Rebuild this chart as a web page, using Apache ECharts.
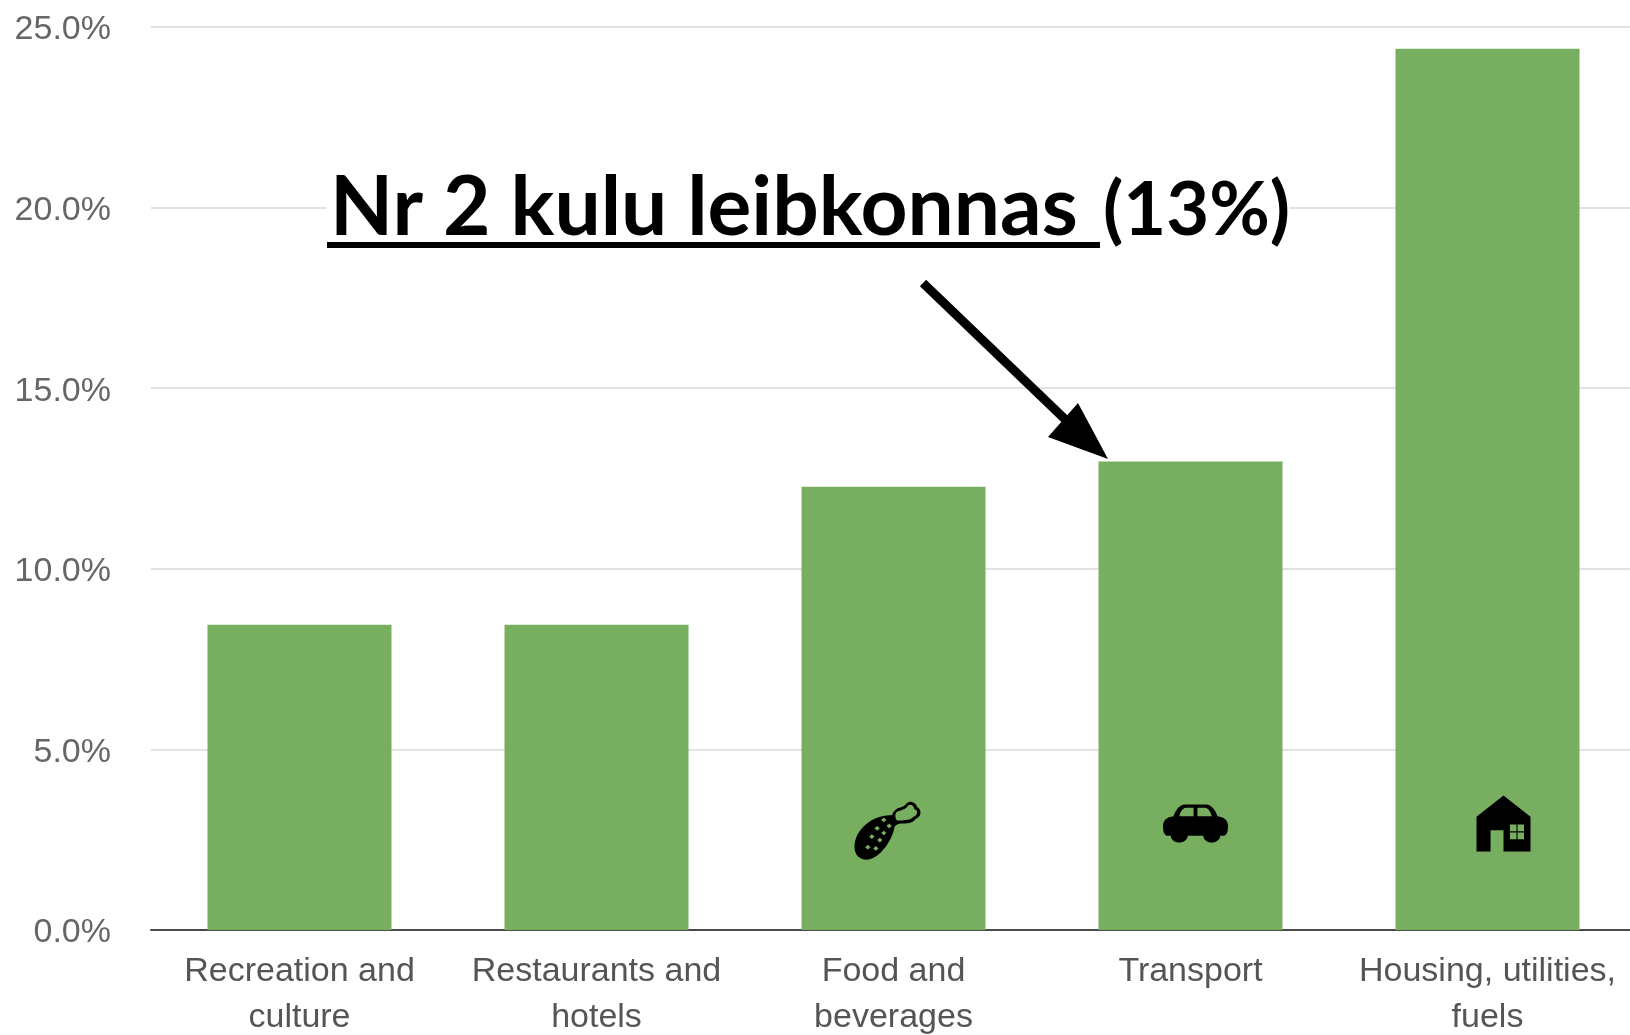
<!DOCTYPE html>
<html>
<head>
<meta charset="utf-8">
<style>html,body{margin:0;padding:0;background:#fff}#c{width:1630px;height:1035px}</style>
<script src="https://cdn.jsdelivr.net/npm/echarts@6/dist/echarts.min.js"></script>
</head>
<body>
<div id="c"></div>
<script>
const categories = ['Recreation and\nculture', 'Restaurants and\nhotels', 'Food and\nbeverages', 'Transport', 'Housing, utilities,\nfuels'];
const shares = [8.45, 8.45, 12.27, 12.97, 24.4];
const headlineMain = 'Nr 2 kulu leibkonnas';
const headlineShare = '(13%)';
const iconHouse = 'path://M50 0L100 38L100 100L50 100L50 62L26 62L26 100L0 100L0 38ZM62 52L62 64L74 64L74 52ZM76 52L76 64L88 64L88 52ZM62 66L62 78L74 78L74 66ZM76 66L76 78L88 78L88 66Z';
const iconCar = 'path://M34 0L66 0C74 0 80 10 84 24C94 26 100 32 100 44C100 56 98 62 94 64L88 64C88 72 82 78 75 78C68 78 62 72 62 64L38 64C38 72 32 78 25 78C18 78 12 72 12 64L6 64C2 62 0 56 0 44C0 32 6 26 16 24C20 10 26 0 34 0ZM47 7L35 7C30 8 27 15 25 24L47 24ZM53 7L53 24L75 24C73 15 70 8 65 7Z';
const iconFood = 'path://M56 24C30 22 0 46 0 78C0 94 12 102 24 98C42 92 58 62 60 44C62 40 66 38 70 38C78 38 88 38 92 30C100 28 102 14 94 10C92 2 84 -2 78 4C76 8 72 10 66 12C62 14 58 18 56 24ZM64 18C72 15 78 13 80 8C84 4 89 7 90 14C96 15 95 25 88 27C84 33 72 33 64 33C61 30 60 20 64 18ZM44 28L48 32L44 36L40 32ZM52 38L56 42L52 46L48 42ZM34 42L38 46L34 50L30 46ZM44 50L48 54L44 58L40 54ZM26 56L30 60L26 64L22 60ZM38 62L42 66L38 70L34 66ZM20 74L24 78L20 82L16 78ZM32 76L36 80L32 84L28 80Z';

const chart = echarts.init(document.getElementById('c'), null, {renderer: 'canvas'});
const iconPoint = (cat, value, symbol, size, dx) => ({
  coord: [categories[cat], value], symbol, symbolSize: size, symbolOffset: [dx, 0],
  itemStyle: {color: '#000'}
});
chart.setOption({
  animation: false,
  backgroundColor: '#fff',
  grid: {left: 151, top: 27, width: 1485, height: 903, containLabel: false, outerBoundsMode: 'none'},
  xAxis: {
    type: 'category', data: categories,
    axisTick: {show: false},
    axisLine: {lineStyle: {color: '#4a4a4a', width: 2}},
    axisLabel: {color: '#555', fontFamily: 'Liberation Sans', fontSize: 34, lineHeight: 46, margin: 19, interval: 0, hideOverlap: false}
  },
  yAxis: {
    type: 'value', min: 0, max: 25, interval: 5,
    axisLine: {show: false}, axisTick: {show: false},
    splitLine: {lineStyle: {color: '#e2e2e2', width: 2}},
    axisLabel: {margin: 40, formatter: v => '{tick|' + v.toFixed(1) + '%}',
      rich: {tick: {color: '#666', fontFamily: 'Liberation Sans', fontSize: 34, padding: [6, 0, 0, 0]}}}
  },
  series: [{
    type: 'bar', data: shares, barWidth: 184,
    itemStyle: {color: '#78ae60'},
    markPoint: {
      silent: true, label: {show: false},
      data: [
        iconPoint(2, 2.75, iconFood, [66, 58], -6),
        iconPoint(3, 2.95, iconCar, [65, 38], 5),
        iconPoint(4, 2.95, iconHouse, [54, 56], 16)
      ]
    }
  }],
  graphic: [
    {type: 'rect', z: 9, shape: {x: 326, y: 170, width: 964, height: 90}, style: {fill: '#fff'}},
    {type: 'text', left: 330, top: 168, z: 10, style: {text: headlineMain, fill: '#000',
      fontFamily: 'Lato', fontWeight: 'bold', fontSize: 82}},
    {type: 'text', left: 1103, top: 174, z: 10, style: {text: headlineShare, fill: '#000',
      fontFamily: 'Lato', fontWeight: 'bold', fontSize: 74}},
    {type: 'rect', z: 11, shape: {x: 327, y: 242, width: 773, height: 6}, style: {fill: '#000'}},
    {type: 'line', z: 11, shape: {x1: 923, y1: 283, x2: 1070, y2: 424}, style: {stroke: '#000', lineWidth: 9}},
    {type: 'polygon', z: 11, shape: {points: [[1108, 459], [1048, 437], [1078, 403]]}, style: {fill: '#000'}}
  ]
});
</script>
</body>
</html>
